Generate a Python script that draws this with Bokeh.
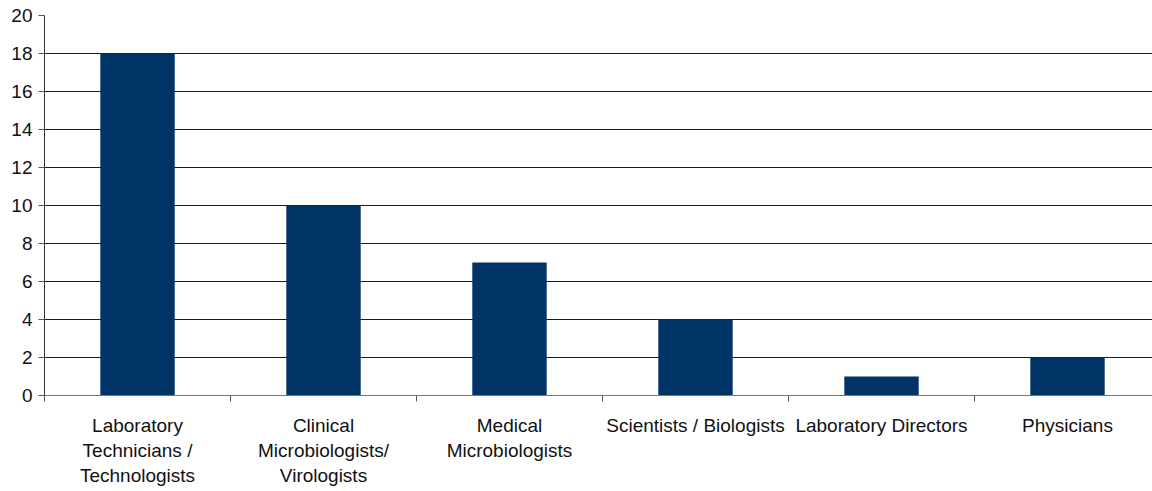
from bokeh.plotting import figure
from bokeh.models import FixedTicker, Range1d, ColumnDataSource
from bokeh.embed import file_html
from bokeh.resources import INLINE

categories = [
    "Laboratory\nTechnicians /\nTechnologists",
    "Clinical\nMicrobiologists/\nVirologists",
    "Medical\nMicrobiologists",
    "Scientists / Biologists",
    "Laboratory Directors",
    "Physicians",
]
counts = [18, 10, 7, 4, 1, 2]
y_ticks = [0, 2, 4, 6, 8, 10, 12, 14, 16, 18, 20]

n = len(categories)
centers = [i + 0.5 for i in range(n)]
bounds = list(range(n + 1))

p = figure(width=1152, height=491, output_backend="svg", toolbar_location=None,
           x_range=Range1d(0, 5.957), y_range=Range1d(0, 20),
           min_border_left=44, min_border_right=0, min_border_top=15, min_border_bottom=96)
p.outline_line_color = None
p.background_fill_color = "white"
p.border_fill_color = "white"

src = ColumnDataSource(dict(x=centers, top=counts))
p.vbar(x="x", top="top", width=0.4, bottom=0, source=src,
       fill_color="#003366", line_color=None)

p.xgrid.visible = False
p.ygrid.ticker = FixedTicker(ticks=y_ticks)
p.ygrid.grid_line_color = "#1a1a1a"
p.ygrid.grid_line_width = 1

xa = p.xaxis[0]
xa.ticker = FixedTicker(ticks=centers, minor_ticks=bounds)
xa.major_label_overrides = {c: lab for c, lab in zip(centers, categories)}
xa.major_tick_out = 0
xa.major_tick_in = 0
xa.minor_tick_out = 6
xa.minor_tick_in = 0
xa.minor_tick_line_color = "#555555"
xa.axis_line_color = "#777777"
xa.major_label_standoff = 13
xa.major_label_text_font = "Liberation Sans"
xa.major_label_text_font_size = "19px"
xa.major_label_text_color = "#111111"
xa.major_label_text_line_height = 1.2

ya = p.yaxis[0]
ya.ticker = FixedTicker(ticks=y_ticks)
ya.minor_tick_line_color = None
ya.major_tick_out = 6
ya.major_tick_in = 0
ya.major_tick_line_color = "#555555"
ya.axis_line_color = "#333333"
ya.major_label_standoff = 6
ya.major_label_text_font = "Liberation Sans"
ya.major_label_text_font_size = "19px"
ya.major_label_text_color = "#111111"

open("out.html", "w").write(file_html(p, INLINE))
